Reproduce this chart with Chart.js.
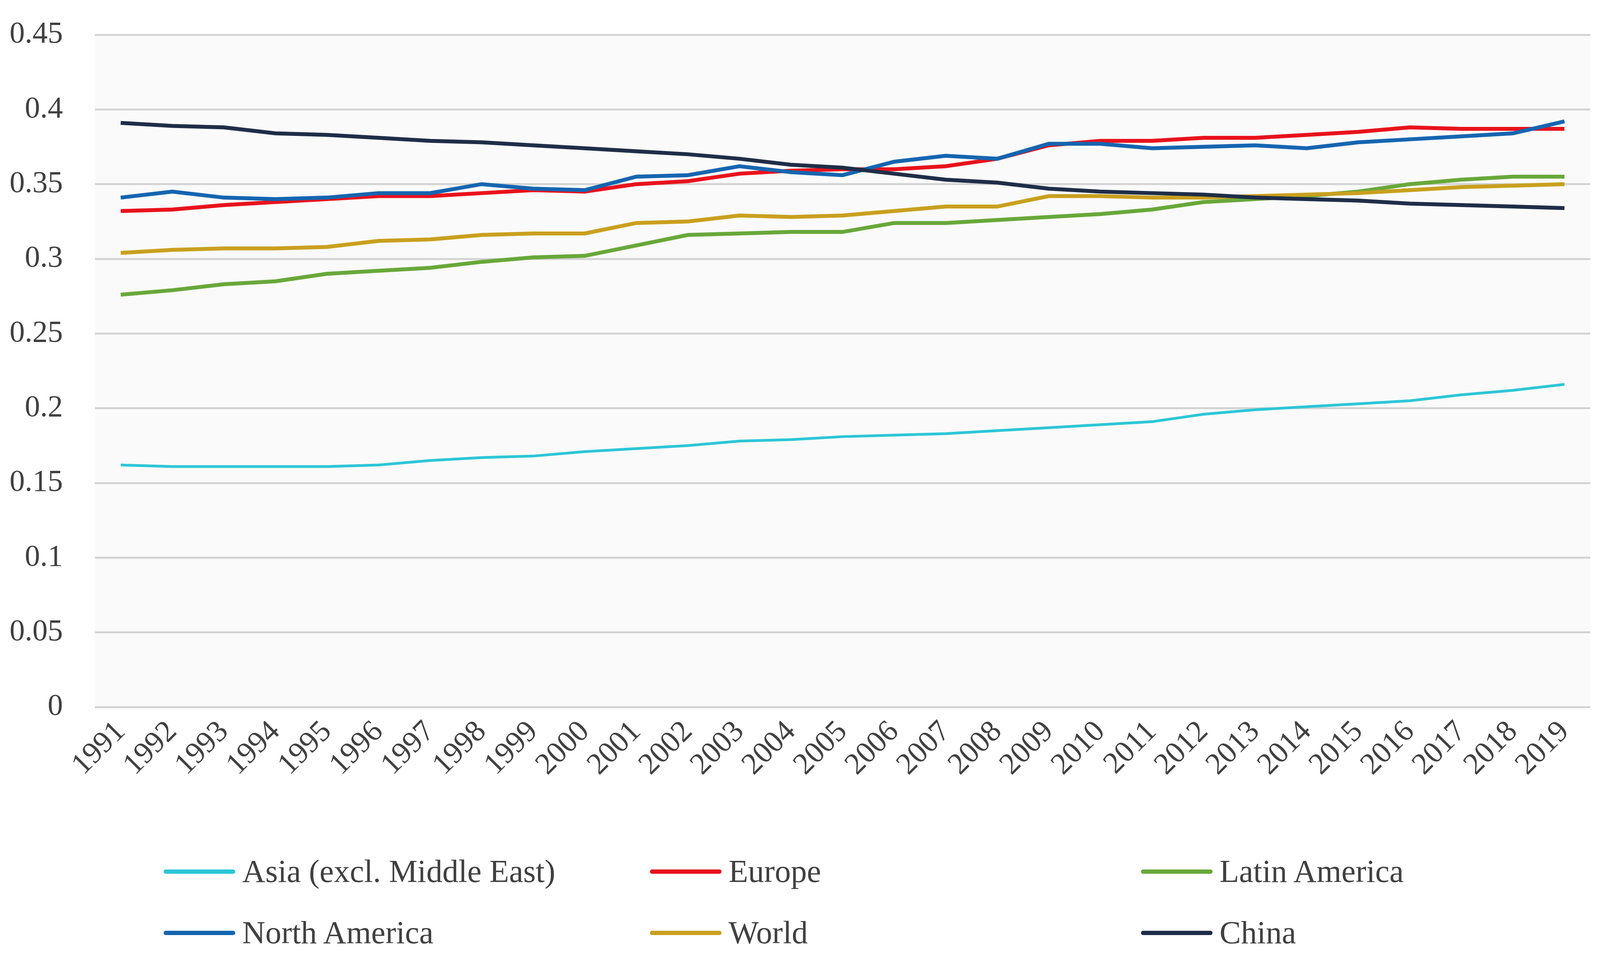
<!DOCTYPE html>
<html>
<head>
<meta charset="utf-8">
<script src="https://cdn.jsdelivr.net/npm/chart.js@4"></script>
<style>
  html, body { margin: 0; padding: 0; background: #ffffff; }
  #wrap { position: relative; width: 4104px; height: 2464px; }
  #legend {
    position: absolute; left: 0; top: 0; width: 4104px; height: 2464px;
    pointer-events: none;
    font-family: "Liberation Serif", "Times New Roman", serif;
    font-size: 82px; color: #404040;
  }
  .item { position: absolute; display: flex; align-items: center; white-space: nowrap; height: 100px; line-height: 100px; }
  .swatch { width: 183px; height: 11px; border-radius: 5px; margin-right: 18px; }
</style>
</head>
<body>
<div id="wrap">
  <canvas id="chart" width="4104" height="2464"></canvas>
  <div id="legend"></div>
</div>
<script>
// =========================
// DATA
// =========================
const years = ["1991", "1992", "1993", "1994", "1995", "1996", "1997", "1998", "1999", "2000",
  "2001", "2002", "2003", "2004", "2005", "2006", "2007", "2008", "2009", "2010",
  "2011", "2012", "2013", "2014", "2015", "2016", "2017", "2018", "2019"];

const yLabels = ["0", "0.05", "0.1", "0.15", "0.2", "0.25", "0.3", "0.35", "0.4", "0.45"];

const asia = [0.162, 0.161, 0.161, 0.161, 0.161, 0.162, 0.165, 0.167, 0.168, 0.171,
  0.173, 0.175, 0.178, 0.179, 0.181, 0.182, 0.183, 0.185, 0.187, 0.189,
  0.191, 0.196, 0.199, 0.201, 0.203, 0.205, 0.209, 0.212, 0.216];

const europe = [0.332, 0.333, 0.336, 0.338, 0.340, 0.342, 0.342, 0.344, 0.346, 0.345,
  0.350, 0.352, 0.357, 0.359, 0.360, 0.360, 0.362, 0.367, 0.376, 0.379,
  0.379, 0.381, 0.381, 0.383, 0.385, 0.388, 0.387, 0.387, 0.387];

const latinAmerica = [0.276, 0.279, 0.283, 0.285, 0.290, 0.292, 0.294, 0.298, 0.301, 0.302,
  0.309, 0.316, 0.317, 0.318, 0.318, 0.324, 0.324, 0.326, 0.328, 0.330,
  0.333, 0.338, 0.340, 0.342, 0.345, 0.350, 0.353, 0.355, 0.355];

const northAmerica = [0.341, 0.345, 0.341, 0.340, 0.341, 0.344, 0.344, 0.350, 0.347, 0.346,
  0.355, 0.356, 0.362, 0.358, 0.356, 0.365, 0.369, 0.367, 0.377, 0.377,
  0.374, 0.375, 0.376, 0.374, 0.378, 0.380, 0.382, 0.384, 0.392];

const world = [0.304, 0.306, 0.307, 0.307, 0.308, 0.312, 0.313, 0.316, 0.317, 0.317,
  0.324, 0.325, 0.329, 0.328, 0.329, 0.332, 0.335, 0.335, 0.342, 0.342,
  0.341, 0.341, 0.342, 0.343, 0.344, 0.346, 0.348, 0.349, 0.350];

const china = [0.391, 0.389, 0.388, 0.384, 0.383, 0.381, 0.379, 0.378, 0.376, 0.374,
  0.372, 0.370, 0.367, 0.363, 0.361, 0.357, 0.353, 0.351, 0.347, 0.345,
  0.344, 0.343, 0.341, 0.340, 0.339, 0.337, 0.336, 0.335, 0.334];

const seriesNames = ["Asia (excl. Middle East)", "Europe", "Latin America", "North America", "World", "China"];
const seriesValues = [asia, europe, latinAmerica, northAmerica, world, china];
const seriesColors = ["#2cc6d6", "#e8121c", "#68a83a", "#1565b0", "#c9a01e", "#1f2d48"];
const seriesWidths = [7, 10, 10, 10, 10, 10];

// =========================
// HELPERS
// =========================
const textColor = "#404040";
const serif = "'Liberation Serif', 'Times New Roman', serif";

const plotBg = {
  id: "plotBg",
  beforeDraw(chart) {
    const { ctx, chartArea: a } = chart;
    ctx.save();
    ctx.fillStyle = "#fafafa";
    ctx.fillRect(a.left, a.top, a.right - a.left, a.bottom - a.top);
    ctx.restore();
  },
};

const datasets = seriesNames.map((name, i) => ({
  label: name,
  data: seriesValues[i],
  borderColor: seriesColors[i],
  backgroundColor: seriesColors[i],
  borderWidth: seriesWidths[i],
  pointRadius: 0,
  tension: 0,
  fill: false,
  order: seriesNames.length - i, // later series on top, like Excel
}));

// =========================
// CHART
// =========================
new Chart(document.getElementById("chart"), {
  type: "line",
  data: { labels: years, datasets },
  options: {
    responsive: false,
    animation: false,
    devicePixelRatio: 1,
    layout: { padding: { top: 89, right: 33, bottom: 403, left: 0 } },
    plugins: {
      legend: { display: false },
      tooltip: { enabled: false },
    },
    scales: {
      x: {
        offset: true,
        grid: { display: false },
        border: { display: false },
        ticks: {
          autoSkip: false,
          maxRotation: 45,
          minRotation: 45,
          padding: 10,
          color: textColor,
          font: { family: serif, size: 78 },
        },
        afterFit(scale) { scale.height = 250; },
      },
      y: {
        min: 0,
        max: 0.45,
        border: { display: false },
        grid: { color: "#d3d3d3", lineWidth: 5, drawTicks: false },
        ticks: {
          stepSize: 0.05,
          padding: 82,
          color: textColor,
          font: { family: serif, size: 78 },
          callback: (v, i) => yLabels[i],
        },
        afterFit(scale) {
          scale.width = 243;
          scale.paddingTop = 0;
          scale.paddingBottom = 0;
        },
      },
    },
  },
  plugins: [plotBg],
});

// =========================
// LEGEND (3 columns x 2 rows)
// =========================
const legendCols = [419, 1664, 2921];
const legendRows = [2232, 2389];
const legend = document.getElementById("legend");
seriesNames.forEach((name, i) => {
  const item = document.createElement("div");
  item.className = "item";
  item.style.left = legendCols[i % 3] + "px";
  item.style.top = (legendRows[Math.floor(i / 3)] - 50) + "px";
  const sw = document.createElement("span");
  sw.className = "swatch";
  sw.style.background = seriesColors[i];
  const txt = document.createElement("span");
  txt.textContent = name;
  item.appendChild(sw);
  item.appendChild(txt);
  legend.appendChild(item);
});
</script>
</body>
</html>
